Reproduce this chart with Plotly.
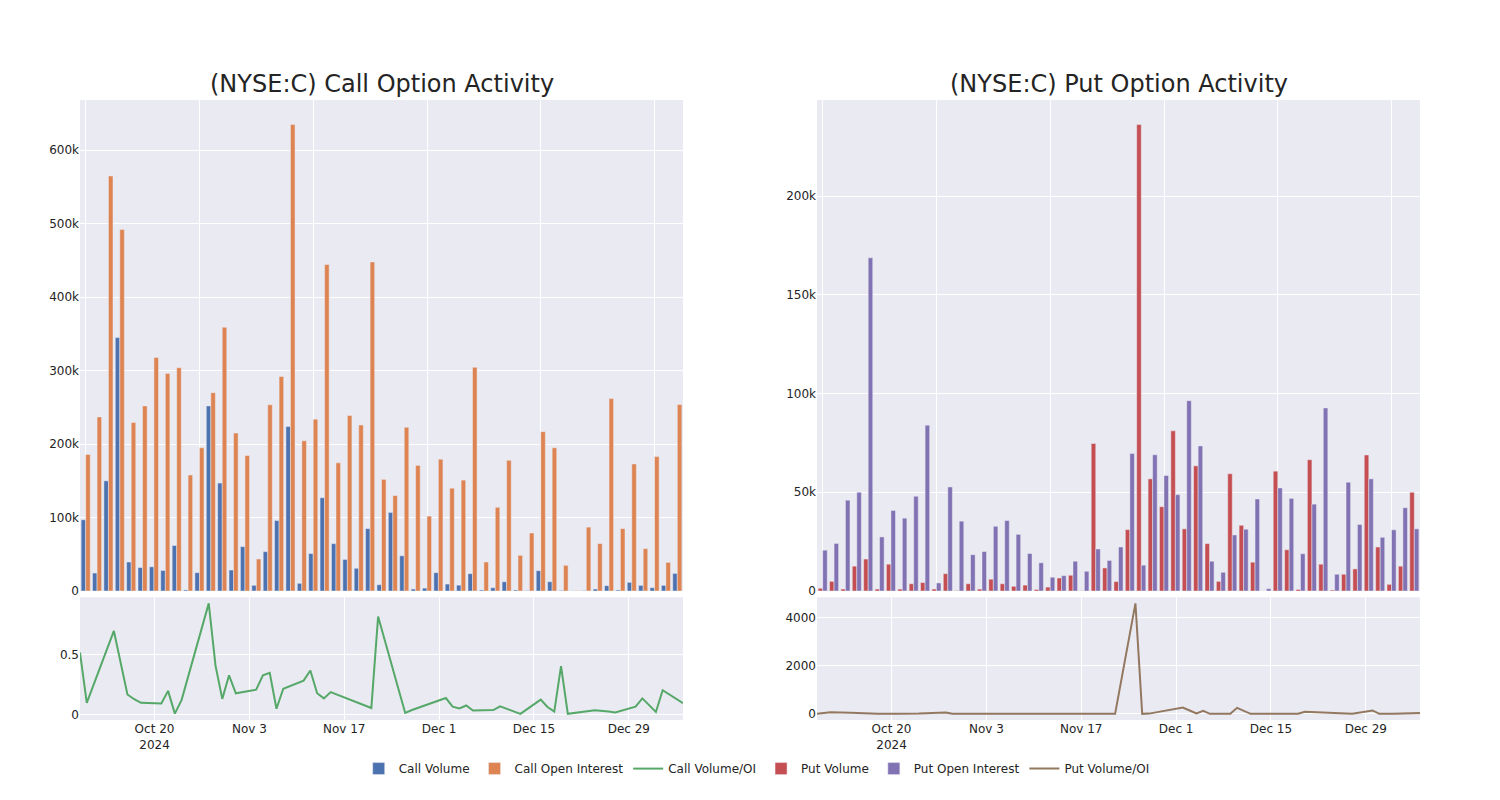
import plotly.graph_objects as go
from plotly.subplots import make_subplots

dates = [
    "2024-10-09", "2024-10-10", "2024-10-11", "2024-10-14", "2024-10-16", "2024-10-17",
    "2024-10-18", "2024-10-21", "2024-10-22", "2024-10-23", "2024-10-24", "2024-10-28",
    "2024-10-29", "2024-10-30", "2024-10-31", "2024-11-01", "2024-11-04", "2024-11-05",
    "2024-11-06", "2024-11-07", "2024-11-08", "2024-11-11", "2024-11-12", "2024-11-13",
    "2024-11-14", "2024-11-15", "2024-11-21", "2024-11-22", "2024-11-25", "2024-11-26",
    "2024-11-27", "2024-12-02", "2024-12-03", "2024-12-04", "2024-12-05", "2024-12-06",
    "2024-12-09", "2024-12-10", "2024-12-12", "2024-12-13", "2024-12-16", "2024-12-17",
    "2024-12-18", "2024-12-19", "2024-12-20", "2024-12-24", "2024-12-26", "2024-12-27",
    "2024-12-30", "2024-12-31", "2025-01-02", "2025-01-03", "2025-01-06",
]

call_volume = [
    97000, 24500, 150000, 345000, 39500, 32000, 33000, 28000, 62000, 1500, 25000, 252000,
    147000, 28600, 60500, 7800, 53600, 96000, 224000, 10500, 51000, 127000, 64500, 43000,
    31000, 85000, 8600, 107000, 48000, 2700, 4000, 25000, 9500, 8000, 23600, 1400,
    4500, 12700, 1400, 600, 27700, 12700, 900, 180, 700, 2700, 7300, 1400,
    11800, 7700, 4500, 7700, 24000,
]
call_oi = [
    186000, 237000, 565000, 492000, 229500, 252000, 318000, 296000, 304000, 158000, 195000, 270000,
    359000, 215000, 184500, 43600, 253600, 292000, 635000, 204500, 234000, 444500, 174500, 239000,
    226000, 448000, 152000, 130000, 223000, 171000, 102000, 179500, 140000, 151000, 304500, 39500,
    114000, 178000, 48600, 79000, 217000, 195000, 35000, 440, 87000, 64500, 262000, 85000,
    173000, 57700, 183000, 39000, 254000,
]
call_ratio = [
    0.52, 0.10, 0.25, 0.70, 0.17, 0.13, 0.10, 0.095, 0.20, 0.01, 0.125, 0.93,
    0.41, 0.133, 0.33, 0.18, 0.21, 0.33, 0.35, 0.051, 0.218, 0.285, 0.37, 0.18,
    0.137, 0.19, 0.057, 0.82, 0.215, 0.016, 0.04, 0.14, 0.068, 0.054, 0.078, 0.036,
    0.04, 0.071, 0.029, 0.008, 0.127, 0.065, 0.027, 0.407, 0.008, 0.039, 0.028, 0.02,
    0.068, 0.137, 0.024, 0.205, 0.098,
]

put_volume = [
    1400, 4900, 1000, 12600, 16200, 1000, 13600, 1000, 3700, 4300, 1000, 8800,
    200, 3700, 1000, 6000, 3700, 2400, 3000, 800, 2000, 6600, 8000, 100,
    74700, 11700, 4800, 31100, 236200, 56800, 42700, 81100, 31500, 63400, 24000, 4900,
    59400, 33300, 14600, 0, 60700, 20900, 800, 66500, 13600, 500, 8500, 11200,
    68900, 22300, 3400, 12600, 50000,
]
put_oi = [
    20700, 24100, 46000, 50000, 168700, 27400, 40800, 36900, 48000, 84000, 4100, 52700,
    35400, 18400, 20000, 32800, 35700, 28700, 19000, 14300, 7000, 7800, 15100, 10000,
    21300, 15500, 22300, 69600, 13100, 69000, 58500, 48800, 96400, 73500, 15100, 9500,
    28400, 31300, 46600, 1200, 52200, 46900, 18900, 44000, 92700, 8500, 55100, 33700,
    56800, 27200, 31000, 42200, 31500,
]
put_ratio = [
    0, 35, 65, 45, 15, 5, 0, 0, 0, 0, 10, 55,
    5, 0, 0, 0, 5, 15, 30, 5, 0, 0, 0, 0,
    0, 0, 0, 0, 4580, 0, 10, 265, 140, 15, 125, 0,
    0, 250, 0, 0, 0, 0, 0, 5, 85, 45, 20, 5,
    140, 0, 0, 5, 40,
]

titles = ["(NYSE:C) Call Option Activity", "(NYSE:C) Put Option Activity"]

colors = {
    "cv": "rgb(76,114,176)", "coi": "rgb(221,132,82)", "cr": "rgb(85,168,104)",
    "pv": "rgb(196,78,82)", "poi": "rgb(129,114,179)", "pr": "rgb(147,120,96)",
}

fig = make_subplots(
    rows=2, cols=2, row_heights=[0.8, 0.2], vertical_spacing=0.01,
    horizontal_spacing=0.1, subplot_titles=[titles[0], titles[1], "", ""],
)

bar_line = dict(color="rgb(234,234,242)", width=0.5)

fig.add_trace(go.Bar(x=dates, y=call_volume, name="Call Volume",
                     marker=dict(color=colors["cv"], line=bar_line)), row=1, col=1)
fig.add_trace(go.Bar(x=dates, y=call_oi, name="Call Open Interest",
                     marker=dict(color=colors["coi"], line=bar_line)), row=1, col=1)
fig.add_trace(go.Scatter(x=dates, y=call_ratio, name="Call Volume/OI", mode="lines",
                         line=dict(color=colors["cr"], width=2)), row=2, col=1)
fig.add_trace(go.Bar(x=dates, y=put_volume, name="Put Volume",
                     marker=dict(color=colors["pv"], line=bar_line)), row=1, col=2)
fig.add_trace(go.Bar(x=dates, y=put_oi, name="Put Open Interest",
                     marker=dict(color=colors["poi"], line=bar_line)), row=1, col=2)
fig.add_trace(go.Scatter(x=dates, y=put_ratio, name="Put Volume/OI", mode="lines",
                         line=dict(color=colors["pr"], width=2)), row=2, col=2)

fig.update_layout(
    template="seaborn",
    width=1500, height=800,
    margin=dict(l=72, r=88, t=92, b=88),
    font=dict(family="DejaVu Sans", size=12, color="rgb(36,36,36)"),
    barmode="group",
    legend=dict(orientation="h", x=0.505, xanchor="center", y=-0.055, yanchor="top",
                font=dict(size=12)),
)
for ann in fig.layout.annotations:
    ann.font = dict(size=24, family="DejaVu Sans", color="rgb(36,36,36)")

tickcats = dates[::10]
for c in (1, 2):
    fig.update_xaxes(type="category", tickvals=tickcats, showticklabels=False, row=1, col=c)
    fig.update_xaxes(type="date", row=2, col=c)

fig.update_yaxes(dtick=0.5, row=2, col=1)
fig.update_yaxes(dtick=2000, row=2, col=2)

fig.write_html("out.html")
